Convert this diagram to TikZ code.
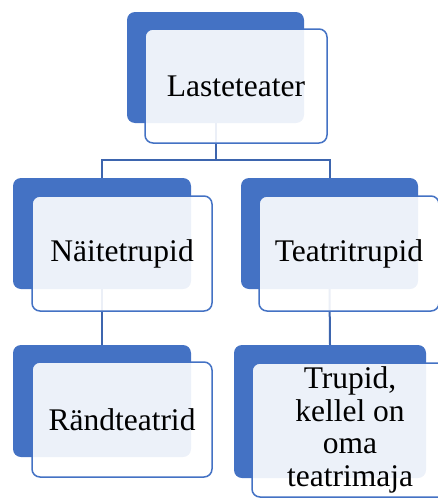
\documentclass[tikz,border=0pt]{standalone}
\usepackage{fontspec}
\setmainfont{Liberation Serif}
\newfontfamily\boxfont{Liberation Serif}
\definecolor{boxblue}{HTML}{4472C4}
\definecolor{linkblue}{HTML}{3D65AE}
\begin{document}
\begin{tikzpicture}[x=1pt,y=-1pt,
  back/.style={draw=none,fill=boxblue,rounded corners=8pt,inner sep=0pt},
  front/.style={draw=boxblue,line width=1.5pt,fill=white,fill opacity=0.9,text opacity=1,
    rounded corners=8pt,inner sep=0pt,align=center,
    font=\boxfont\fontsize{31.5}{32.5}\selectfont},
  link/.style={draw=linkblue,line width=2pt}]
\useasboundingbox (0,0) rectangle (438,498);
\clip (0,0) rectangle (438,498);
% back rectangles
\node[back,minimum width=177pt,minimum height=111pt] (b1) at (215.5,67.5) {};
\node[back,minimum width=178pt,minimum height=111pt] (b2) at (102,233.5) {};
\node[back,minimum width=177pt,minimum height=111pt] (b3) at (329.5,233.5) {};
\node[back,minimum width=178pt,minimum height=112pt] (b4) at (102,401) {};
\node[back,minimum width=192pt,minimum height=133pt] (b5) at (330,411.5) {};
% connectors
\coordinate (j) at (215.5,160);
\draw[link] (b1.south) -- (j);
\draw[link] (j) -| (b2.north);
\draw[link] (j) -| (b3.north);
\draw[link] (b2.south) -- (b4.north);
\draw[link] (b3.south) -- (b5.north);
% front rectangles
\node[front,minimum width=182pt,minimum height=114pt] (f1) at (236,86) {Lasteteater};
\node[front,minimum width=180pt,minimum height=115pt] (f2) at (122,253.5) {Näitetrupid};
\node[front,minimum width=180pt,minimum height=115pt] (f3) at (349,253.5) {Teatritrupid};
\node[front,minimum width=180pt,minimum height=115pt] (f4) at (122,419.5) {Rändteatrid};
\node[front,minimum width=196pt,minimum height=134pt] (f5) at (350,430) {Trupid,\\kellel on\\oma\\teatrimaja};
\end{tikzpicture}
\end{document}
